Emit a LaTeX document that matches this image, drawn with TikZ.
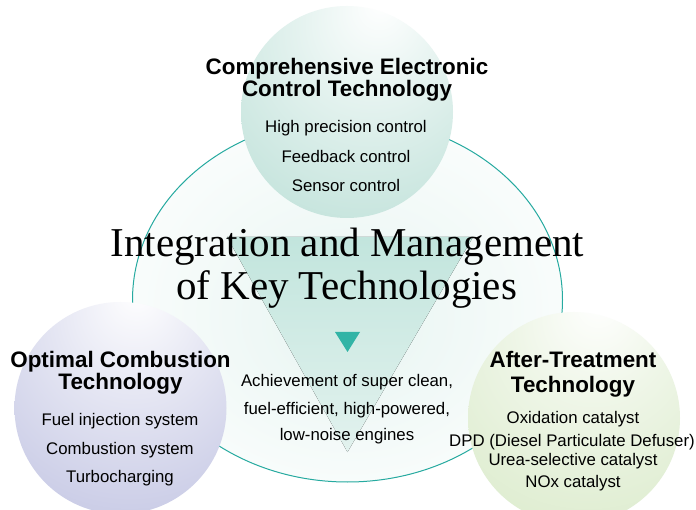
\documentclass[tikz,border=0pt]{standalone}
\usepackage{fontspec}
\setmainfont{Liberation Sans}
\newfontfamily\seriff{Liberation Serif}
\definecolor{ringteal}{RGB}{38,170,160}
\definecolor{tealdeep}{RGB}{146,204,190}
\definecolor{lavdeep}{RGB}{154,158,208}
\definecolor{greendeep}{RGB}{196,222,170}
\definecolor{tritop}{RGB}{194,229,221}
\definecolor{tribot}{RGB}{226,242,238}
\definecolor{hazeteal}{RGB}{232,245,242}
\definecolor{arrowteal}{RGB}{50,180,166}
\pgfdeclareradialshading{tealball}{\pgfpoint{8bp}{26bp}}{color(0bp)=(white); color(18bp)=(white!75!tealdeep); color(78bp)=(tealdeep)}
\pgfdeclareradialshading{lavball}{\pgfpoint{4bp}{28bp}}{color(0bp)=(white); color(18bp)=(white!75!lavdeep); color(78bp)=(lavdeep)}
\pgfdeclareradialshading{greenball}{\pgfpoint{6bp}{28bp}}{color(0bp)=(white); color(18bp)=(white!72!greendeep); color(78bp)=(greendeep)}
\pgfdeclareradialshading{haze}{\pgfpoint{0bp}{-4bp}}{color(0bp)=(hazeteal); color(16bp)=(hazeteal!55!white); color(34bp)=(white)}
\tikzset{
  head/.style={inner sep=0pt, anchor=base, font=\bfseries\fontsize{22.4}{24}\selectfont},
  item/.style={inner sep=0pt, anchor=base, font=\fontsize{16.8}{18}\selectfont},
  title/.style={inner sep=0pt, anchor=base, font=\seriff\fontsize{41}{43}\selectfont},
  ball/.style={circle, minimum size=212pt, inner sep=0pt}
}
\begin{document}
\begin{tikzpicture}[x=1pt,y=-1pt]
\useasboundingbox (0,0) rectangle (696,510);
\fill[white] (0,0) rectangle (696,510);
% big ellipse
\path[shading=haze] (347.5,300) ellipse [x radius=215pt, y radius=182pt];
\fill[top color=tritop, bottom color=tribot] (227,237) -- (473,237) -- (347.5,452) -- cycle;
\draw[ringteal, line width=1pt] (347.5,300) ellipse [x radius=215pt, y radius=182pt];
% balls
\node[ball, shading=tealball] (topball) at (347,112) {};
\node[ball, shading=lavball] (leftball) at (120.5,408) {};
\node[ball, shading=greenball] (rightball) at (574,418) {};
% small arrow triangle
\fill[arrowteal] (335,332) -- (360,332) -- (347.5,352) -- cycle;
% title
\node[title] (t1) at (347.5,257) {Integration and Management};
\node[title] (t2) at (346.5,300) {of Key Technologies};
% top
\node[head] (h1) at (347,75) {Comprehensive Electronic};
\node[head] (h2) at (347,97) {Control Technology};
\node[item] (a1) at (346,133) {High precision control};
\node[item] (a2) at (346,163) {Feedback control};
\node[item] (a3) at (346,192) {Sensor control};
% center
\node[item] (c1) at (347,387) {Achievement of super clean,};
\node[item] (c2) at (347,414) {fuel-efficient, high-powered,};
\node[item] (c3) at (347,440) {low-noise engines};
% left
\node[head] (l1) at (120.5,368) {Optimal Combustion};
\node[head] (l2) at (120.5,390) {Technology};
\node[item] (l3) at (120,425) {Fuel injection system};
\node[item] (l4) at (120,454) {Combustion system};
\node[item] (l5) at (120,482) {Turbocharging};
% right
\node[head] (r1) at (573,368) {After-Treatment};
\node[head] (r2) at (573,392) {Technology};
\node[item] (r3) at (573,423) {Oxidation catalyst};
\node[item] (r4) at (572,446) {DPD (Diesel Particulate Defuser)};
\node[item] (r5) at (573,465) {Urea-selective catalyst};
\node[item] (r6) at (573,487) {NOx catalyst};
\end{tikzpicture}
\end{document}
